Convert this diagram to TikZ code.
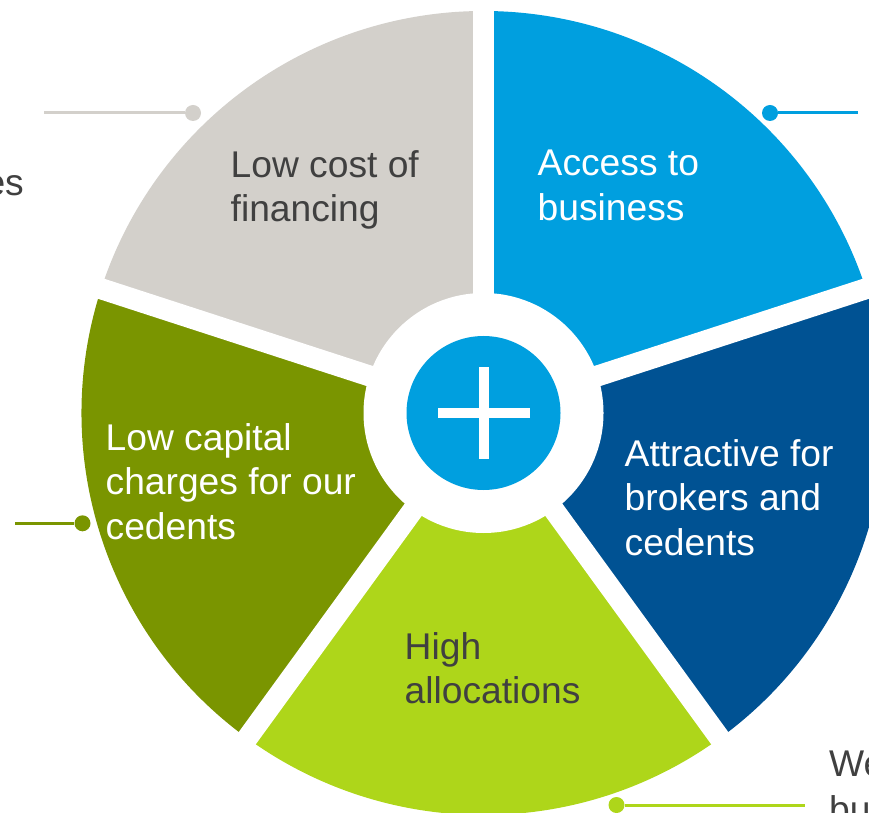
\documentclass[tikz,border=0pt]{standalone}
\usepackage{fontspec}
\setmainfont{Liberation Sans}
\definecolor{cgrey}{RGB}{211,208,203}
\definecolor{cblue}{RGB}{0,159,223}
\definecolor{cnavy}{RGB}{0,82,147}
\definecolor{clime}{RGB}{174,214,26}
\definecolor{colive}{RGB}{122,149,0}
\definecolor{ctext}{RGB}{64,64,64}
\begin{document}
\begin{tikzpicture}[x=1pt,y=1pt,
  lbl/.style={anchor=north west, inner sep=0pt, align=left, font=\fontsize{37.2}{44.7}\selectfont},
  side/.style={inner sep=0pt, font=\fontsize{37.2}{44.7}\selectfont, text=ctext},
  lead/.style={line width=3pt},
  dot/.style={circle, inner sep=0pt, minimum size=16pt},
  gap/.style={white, line width=21pt},
]
\useasboundingbox (0,0) rectangle (869,812);
\coordinate (c) at (483.5,399);
% sectors
\fill[cgrey]  (c) -- ++(90:402pt)  arc[start angle=90,  end angle=162, radius=402pt] -- cycle;
\fill[cblue]  (c) -- ++(18:402pt)  arc[start angle=18,  end angle=90,  radius=402pt] -- cycle;
\fill[cnavy]  (c) -- ++(-54:402pt) arc[start angle=-54, end angle=18,  radius=402pt] -- cycle;
\fill[clime]  (c) -- ++(-126:402pt) arc[start angle=-126, end angle=-54, radius=402pt] -- cycle;
\fill[colive] (c) -- ++(162:402pt) arc[start angle=162, end angle=234, radius=402pt] -- cycle;
% gaps
\foreach \a in {90,18,-54,-126,162} \draw[gap] (c) -- ++(\a:430pt);
% hub
\fill[white] (c) circle[radius=120pt];
\node[circle, fill=cblue, minimum size=154pt, inner sep=0pt] (hub) at (c) {};
\fill[white] ([shift={(-46,-5)}]hub.center) rectangle ([shift={(46,5)}]hub.center);
\fill[white] ([shift={(-5,-46)}]hub.center) rectangle ([shift={(5,46)}]hub.center);
% labels
\node[lbl, text=ctext] (t1) at (230.5,662) {Low cost of\\financing};
\node[lbl, text=white] (t2) at (537.5,662) {Access to\\business};
\node[lbl, text=white] (t3) at (624.5,373) {Attractive for\\brokers and\\cedents};
\node[lbl, text=ctext] (t4) at (404.5,180) {High\\allocations};
\node[lbl, text=white] (t5) at (105.5,389) {Low capital\\charges for our\\cedents};
% leader lines
\node[dot, fill=cgrey] (d1) at (193,699) {};
\coordinate (e1) at (44,699);
\draw[lead, cgrey] (e1) -- (d1);
\node[dot, fill=cblue] (d2) at (770,699) {};
\coordinate (e2) at (858,699);
\draw[lead, cblue] (d2) -- (e2);
\node[dot, fill=colive] (d3) at (82.5,288.7) {};
\coordinate (e3) at (15,288.7);
\draw[lead, colive] (e3) -- (d3);
\node[dot, fill=clime] (d4) at (616.5,7) {};
\coordinate (e4) at (805,7);
\draw[lead, clime] (d4) -- (e4);
% cut-off side texts (cropped in the reference)
\node[side, anchor=base east] (s1) at (24,616) {es};
\node[side, anchor=base west] (s2) at (829,36) {We};
\node[side, anchor=base west] (s3) at (829,-10) {bu};
\end{tikzpicture}
\end{document}
